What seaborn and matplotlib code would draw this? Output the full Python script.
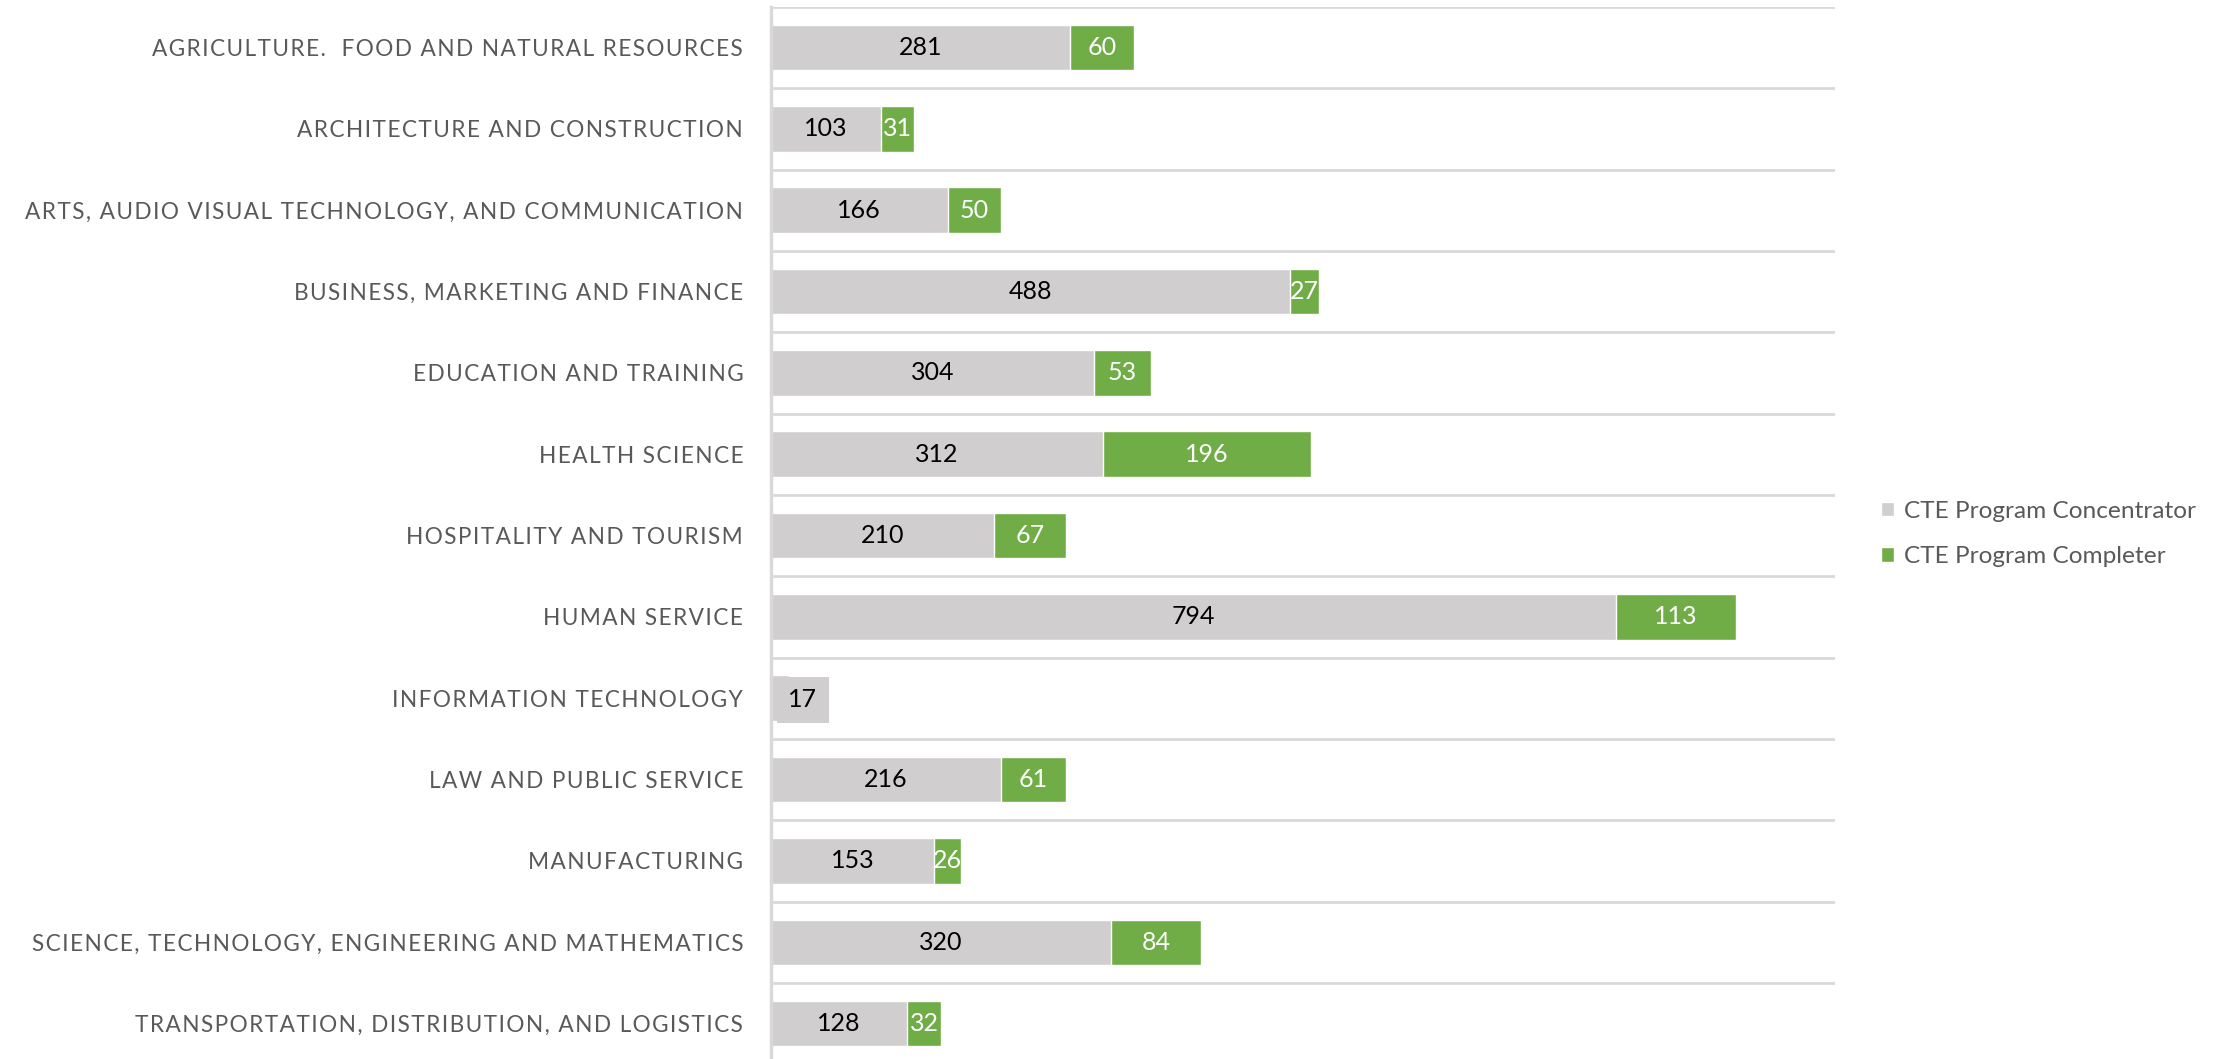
import numpy as np
import pandas as pd
import seaborn as sns
import matplotlib.pyplot as plt
from matplotlib.patches import Patch

# %% data
categories = [
    "AGRICULTURE.  FOOD AND NATURAL RESOURCES",
    "ARCHITECTURE AND CONSTRUCTION",
    "ARTS, AUDIO VISUAL TECHNOLOGY, AND COMMUNICATION",
    "BUSINESS, MARKETING AND FINANCE",
    "EDUCATION AND TRAINING",
    "HEALTH SCIENCE",
    "HOSPITALITY AND TOURISM",
    "HUMAN SERVICE",
    "INFORMATION TECHNOLOGY",
    "LAW AND PUBLIC SERVICE",
    "MANUFACTURING",
    "SCIENCE, TECHNOLOGY, ENGINEERING AND MATHEMATICS",
    "TRANSPORTATION, DISTRIBUTION, AND LOGISTICS",
]
concentrator = [281, 103, 166, 488, 304, 312, 210, 794, 17, 216, 153, 320, 128]
completer = [60, 31, 50, 27, 53, 196, 67, 113, 0, 61, 26, 84, 32]
series_names = ["CTE Program Concentrator", "CTE Program Completer"]

GREY = "#D0CECE"
GREEN = "#70AD47"
TXT = "#595959"

df = pd.DataFrame({"category": categories, "conc": concentrator, "comp": completer})
df["total"] = df["conc"] + df["comp"]


def spaced(s):
    # imitate the wide letter spacing of the original axis labels
    return "\u200a".join(s)


# %% plot
sns.set_theme(style="white")
plt.rcParams["font.family"] = ["Lato", "DejaVu Sans"]

fig = plt.figure(figsize=(22.18, 10.59), dpi=100)
ax = fig.add_axes([0.3476, -0.005, 0.4797, 0.9985])

sns.barplot(data=df, y="category", x="total", color=GREEN, orient="h",
            width=0.56, saturation=1, ax=ax, order=categories)
sns.barplot(data=df, y="category", x="conc", color=GREY, orient="h",
            width=0.56, saturation=1, ax=ax, order=categories)

ax.set_xlim(0, 1000)
ax.set_ylim(12.5, -0.5)
ax.set_xlabel("")
ax.set_ylabel("")
ax.set_xticks([])
ax.set_yticks(range(len(categories)))
ax.set_yticklabels([spaced(c) for c in categories], fontsize=16.3, color=TXT)
ax.tick_params(axis="y", length=0, pad=20)

# gridlines between categories
for b in np.arange(-0.5, len(categories), 1.0):
    ax.axhline(b, color="#D9D9D9", lw=2, zorder=0)

for s in ["top", "right", "bottom"]:
    ax.spines[s].set_visible(False)
ax.spines["left"].set_color("#D9D9D9")
ax.spines["left"].set_linewidth(2.5)

# value labels
fs = 18
for i, row in df.iterrows():
    if row["conc"] > 20:
        ax.text(row["conc"] / 2, i, str(row["conc"]), ha="center", va="center",
                fontsize=fs, color="#000000")
    else:
        ax.text(row["conc"] + 13, i + 0.02, str(row["conc"]), ha="center", va="center",
                fontsize=fs, color="#000000",
                bbox=dict(boxstyle="square,pad=0.45", fc=GREY, ec="none"))
    if row["comp"] > 0:
        ax.text(row["conc"] + row["comp"] / 2, i, str(row["comp"]), ha="center",
                va="center", fontsize=fs, color="white")

handles = [Patch(facecolor=GREY, label=series_names[0]),
           Patch(facecolor=GREEN, label=series_names[1])]
fig.legend(handles=handles, loc="center left", bbox_to_anchor=(0.838, 0.496),
           frameon=False, fontsize=17.6, labelcolor=TXT, handlelength=0.55,
           handleheight=0.55, handletextpad=0.4, labelspacing=1.0)

fig.savefig("out.png", dpi=100)
